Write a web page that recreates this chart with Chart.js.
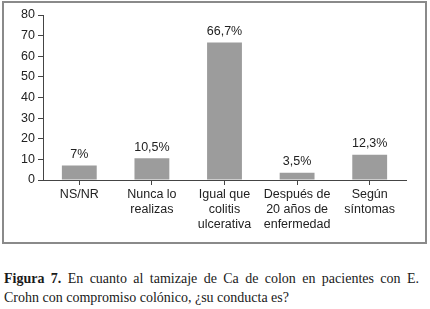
<!DOCTYPE html>
<html>
<head>
<meta charset="utf-8">
<script src="https://cdn.jsdelivr.net/npm/chart.js@4.4.1/dist/chart.umd.min.js"></script>
<style>
  html, body { margin: 0; padding: 0; background: #fff; }
  #wrap { position: relative; width: 430px; height: 309px; overflow: hidden; }
  #frame { position: absolute; left: 2px; top: 1px; width: 421px; height: 239px; border: 2px solid #8a8a8a; }
  #chart-box { position: absolute; left: 0; top: 0; width: 430px; height: 245px; }
  #caption {
    position: absolute; left: 4px; top: 269px; width: 415px;
    font-family: "Liberation Serif", "DejaVu Serif", serif; font-size: 14px; line-height: 19px;
    color: #1a1a1a;
  }
  #caption .l1 { text-align: justify; text-align-last: justify; white-space: nowrap; }
  #caption .l2 { text-align: left; }
</style>
</head>
<body>
<div id="wrap">
  <div id="frame"></div>
  <div id="chart-box"><canvas id="chart" width="430" height="245"></canvas></div>
  <div id="caption">
    <div class="l1"><b>Figura 7.</b> En cuanto al tamizaje de Ca de colon en pacientes con E.</div>
    <div class="l2">Crohn con compromiso colónico, ¿su conducta es?</div>
  </div>
</div>
<script>
const categories = [
  ['NS/NR'],
  ['Nunca lo', 'realizas'],
  ['Igual que', 'colitis', 'ulcerativa'],
  ['Después de', '20 años de', 'enfermedad'],
  ['Según', 'síntomas']
];
const values = [7, 10.5, 66.7, 3.5, 12.3];
const valueLabels = ['7%', '10,5%', '66,7%', '3,5%', '12,3%'];
const yTicks = [0, 10, 20, 30, 40, 50, 60, 70, 80];

const font = { family: '"Liberation Sans", Arial, sans-serif', size: 12.5 };

const valueLabelPlugin = {
  id: 'valueLabels',
  afterDatasetsDraw(chart) {
    const ctx = chart.ctx;
    const meta = chart.getDatasetMeta(0);
    ctx.save();
    ctx.font = '12.5px "Liberation Sans", Arial, sans-serif';
    ctx.fillStyle = '#222';
    ctx.textAlign = 'center';
    ctx.textBaseline = 'bottom';
    meta.data.forEach((bar, i) => {
      ctx.fillText(valueLabels[i], bar.x, bar.y - 5);
    });
    ctx.restore();
  }
};

new Chart(document.getElementById('chart').getContext('2d'), {
  type: 'bar',
  data: {
    labels: categories,
    datasets: [{
      data: values,
      backgroundColor: '#9c9c9c',
      borderWidth: 0,
      barPercentage: 1,
      categoryPercentage: 0.48
    }]
  },
  options: {
    responsive: false,
    animation: false,
    layout: { padding: { top: 15, right: 24, left: 0, bottom: 0 } },
    plugins: {
      legend: { display: false },
      tooltip: { enabled: false }
    },
    scales: {
      x: {
        grid: {
          display: true,
          offset: false,
          drawOnChartArea: false,
          drawTicks: true,
          tickLength: 5,
          color: '#444'
        },
        border: { color: '#444', width: 1 },
        ticks: {
          color: '#222',
          font: font,
          padding: 2,
          maxRotation: 0,
          autoSkip: false
        },
        afterFit(scale) { scale.height = 65; }
      },
      y: {
        min: 0,
        max: 80,
        afterBuildTicks(scale) { scale.ticks = yTicks.map(v => ({ value: v })); },
        grid: {
          display: true,
          drawOnChartArea: false,
          drawTicks: true,
          tickLength: 5,
          color: '#444'
        },
        border: { color: '#444', width: 1 },
        ticks: {
          color: '#222',
          font: font,
          padding: 3
        },
        afterFit(scale) { scale.width = 43; }
      }
    }
  },
  plugins: [valueLabelPlugin]
});
</script>
</body>
</html>
